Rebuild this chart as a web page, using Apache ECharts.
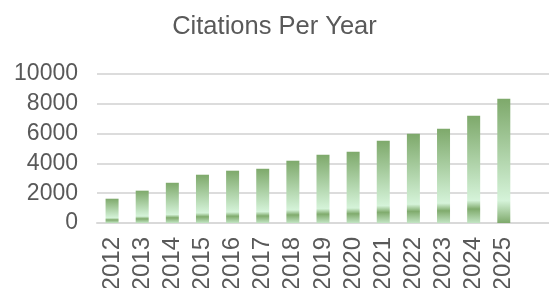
<!DOCTYPE html>
<html>
<head>
<meta charset="utf-8">
<script src="https://cdn.jsdelivr.net/npm/echarts@6/dist/echarts.min.js"></script>
<style>
    html, body { margin: 0; padding: 0; background: #fff; }
    #chart { width: 549px; height: 288px; }
</style>
</head>
<body>
<div id="chart"></div>
<script>
// 年份 + 引用数
var years = ['2012', '2013', '2014', '2015', '2016', '2017', '2018', '2019', '2020', '2021', '2022', '2023', '2024', '2025', '']
var citations = [1630, 2170, 2700, 3240, 3510, 3640, 4180, 4580, 4790, 5520, 5990, 6330, 7200, 8340, null]
var yTicks = [0, 2000, 4000, 6000, 8000, 10000]

var dark = '#7ea96b'
var light = '#d5f3d9'

// 渐变填充, 最后一根柱子不一样
var gradA = new echarts.graphic.LinearGradient(0, 0, 0, 1, [
    {offset: 0, color: dark},
    {offset: 0.79, color: light},
    {offset: 0.87, color: '#80ab6d'},
    {offset: 1, color: '#c2e4c3'}
])
var gradB = new echarts.graphic.LinearGradient(0, 0, 0, 1, [
    {offset: 0, color: dark},
    {offset: 0.82, color: light},
    {offset: 1, color: dark}
])

var __initBar__ = function(title, Dom) {
    var data = []
    for (var i = 0; i < citations.length; i++) {
        data.push({
            value: citations[i],
            itemStyle: {color: i == 13 ? gradB : gradA}
        })
    }
    var option = {
        animation: false,
        title: {
            text: title,
            left: 'center',
            top: 9,
            textStyle: {
                fontFamily: 'Liberation Sans',
                fontWeight: 'normal',
                fontSize: 25.5,
                color: '#595959'
            }
        },
        grid: {
            left: 97,
            right: 0,
            top: 74,
            bottom: 65,
            containLabel: false,
            outerBoundsMode: 'none'
        },
        xAxis: {
            type: 'category',
            data: years,
            axisTick: {show: false},
            axisLine: {lineStyle: {color: '#d9d9d9', width: 2}},
            axisLabel: {
                rotate: 90,
                margin: 14,
                interval: 0,
                fontFamily: 'Liberation Sans',
                fontSize: 24,
                color: '#595959'
            }
        },
        yAxis: {
            type: 'value',
            min: yTicks[0],
            max: yTicks[yTicks.length - 1],
            interval: 2000,
            axisLine: {show: false},
            axisTick: {show: false},
            splitLine: {lineStyle: {color: '#dcdcdc', width: 2}},
            axisLabel: {
                margin: 19,
                fontFamily: 'Liberation Sans',
                fontSize: 23,
                color: '#595959',
                formatter: function(v) {
                    return String(v)
                }
            }
        },
        series: [{
            type: 'bar',
            barWidth: 13,
            data: data
        }]
    }
    echarts.init(Dom).setOption(option)
}

__initBar__('Citations Per Year', document.getElementById('chart'))
</script>
</body>
</html>
